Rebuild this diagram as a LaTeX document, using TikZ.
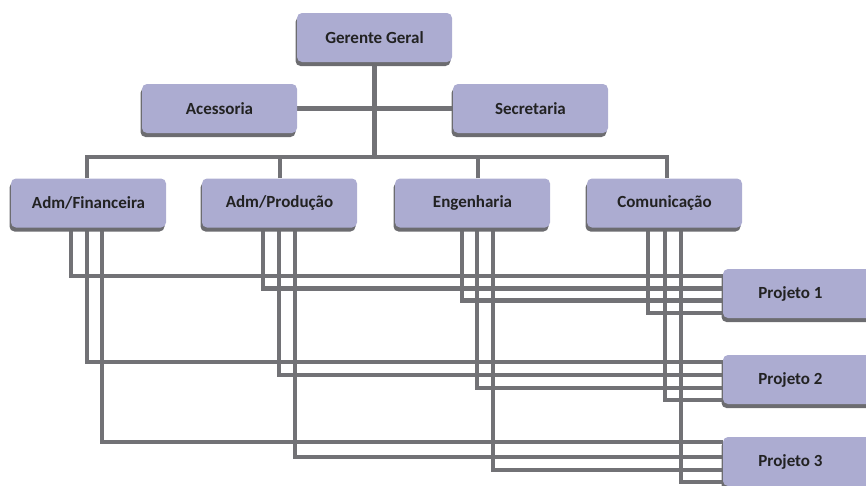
\documentclass[tikz,border=0pt]{standalone}
\usepackage{fontspec}
\setmainfont{Carlito}
\usetikzlibrary{positioning, shadows, backgrounds}

\definecolor{boxfill}{RGB}{172,172,209}
\definecolor{boxshadow}{RGB}{108,108,112}
\definecolor{linkgray}{RGB}{114,114,118}
\definecolor{textdark}{RGB}{34,34,34}

\begin{document}
\begin{tikzpicture}[
    x=1pt, y=-1pt,
    unit/.style={rectangle, rounded corners=5pt, fill=boxfill,
        minimum width=155pt, minimum height=49pt, inner sep=0pt,
        font=\fontsize{17}{19}\selectfont\bfseries, text=textdark,
        general shadow={shadow xshift=-1.5pt, shadow yshift=-4pt, fill=boxshadow}},
    link/.style={draw=linkgray, line width=4.2pt}
]
\useasboundingbox (0,0) rectangle (866,485);
\clip (0,0) rectangle (866,485);

% === DIRECTION ===
\node[unit] (gg) at (374.5, 37.5) {Gerente Geral};
\node[unit] (aces) at (219.5, 108.5) {Acessoria};
\node[unit] (sec) at (530.5, 108.5) {Secretaria};

% === DEPARTMENTS ===
\node[unit] (fin) at (88.5, 203) {Adm/Financeira};
\node[unit] (prod) at (279.5, 203) {Adm/Produção};
\node[unit] (eng) at (472.5, 203) {Engenharia};
\node[unit] (com) at (664.5, 203) {Comunicação};

% === PROJECTS ===
\node[unit] (p1) at (800.5, 293.5) {Projeto 1\hspace*{20pt}};
\node[unit] (p2) at (800.5, 379.5) {Projeto 2\hspace*{20pt}};
\node[unit] (p3) at (800.5, 461.5) {Projeto 3\hspace*{20pt}};

\begin{scope}[on background layer]
    % Hierarchy lines
    \coordinate (bus) at (0, 157);
    \draw[link] (gg.south) -- (gg.south |- bus);
    \draw[link] (aces.east) -- (sec.west);
    \draw[link] ([xshift=-1.5pt]fin.north) |- ([xshift=2.5pt]com.north |- bus)
        -- ([xshift=2.5pt]com.north);
    \draw[link] ([xshift=0.5pt]prod.north) -- ([xshift=0.5pt]prod.north |- bus);
    \draw[link] ([xshift=5.5pt]eng.north) -- ([xshift=5.5pt]eng.north |- bus);

    % Adm/Financeira to projects
    \draw[link] ([xshift=-17.5pt]fin.south) |- ([yshift=17.5pt]p1.west);
    \draw[link] ([xshift=-1.5pt]fin.south) |- ([yshift=17.5pt]p2.west);
    \draw[link] ([xshift=13.5pt]fin.south) |- ([yshift=19.5pt]p3.west);

    % Adm/Produção to projects
    \draw[link] ([xshift=-16.5pt]prod.south) |- ([yshift=5pt]p1.west);
    \draw[link] ([xshift=-0.5pt]prod.south) |- ([yshift=4.5pt]p2.west);
    \draw[link] ([xshift=15.5pt]prod.south) |- ([yshift=4.5pt]p3.west);

    % Engenharia to projects
    \draw[link] ([xshift=-10.5pt]eng.south) |- ([yshift=-7pt]p1.west);
    \draw[link] ([xshift=4.5pt]eng.south) |- ([yshift=-8.5pt]p2.west);
    \draw[link] ([xshift=20.5pt]eng.south) |- ([yshift=-8.5pt]p3.west);

    % Comunicação to projects
    \draw[link] ([xshift=-16.5pt]com.south) |- ([yshift=-19.5pt]p1.west);
    \draw[link] ([xshift=0.5pt]com.south) |- ([yshift=-20.5pt]p2.west);
    \draw[link] ([xshift=16.5pt]com.south) |- ([yshift=-20.5pt]p3.west);
\end{scope}

\end{tikzpicture}
\end{document}
